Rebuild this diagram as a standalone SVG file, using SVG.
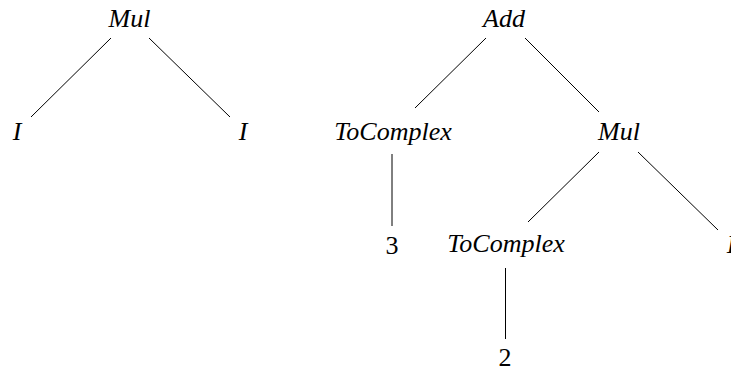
<svg xmlns="http://www.w3.org/2000/svg" width="731" height="372" viewBox="0 0 731 372">
<style>
text{font-family:"Liberation Serif","Times New Roman",serif;font-size:26px;fill:#000;text-anchor:middle}
.it{font-style:italic}
.e line{stroke:#000;stroke-width:1}
</style>
<rect width="731" height="372" fill="#fff"/>
<g class="e" id="connectors">
<line x1="111" y1="38" x2="31" y2="117"/>
<line x1="149" y1="38" x2="230" y2="117"/>
<line x1="486" y1="38" x2="415" y2="108"/>
<line x1="525" y1="38" x2="599" y2="112"/>
<line x1="392" y1="154" x2="392" y2="226"/>
<line x1="599" y1="152" x2="528" y2="222"/>
<line x1="638" y1="152" x2="718" y2="230"/>
<line x1="505.5" y1="268" x2="505.5" y2="339"/>
</g>
<g id="mul1"><text class="it" x="129.5" y="27">Mul</text></g>
<g id="i1"><text class="it" x="17" y="140">I</text></g>
<g id="i2"><text class="it" x="243" y="140">I</text></g>
<g id="add"><text class="it" x="504" y="27">Add</text></g>
<g id="tocomplex1"><text class="it" x="393" y="140">ToComplex</text></g>
<g id="mul2"><text class="it" x="619" y="140">Mul</text></g>
<g id="n3"><text x="392" y="254">3</text></g>
<g id="tocomplex2"><text class="it" x="506" y="252">ToComplex</text></g>
<g id="i3"><text class="it" x="731" y="253">I</text></g>
<g id="n2"><text x="505" y="366">2</text></g>
</svg>
